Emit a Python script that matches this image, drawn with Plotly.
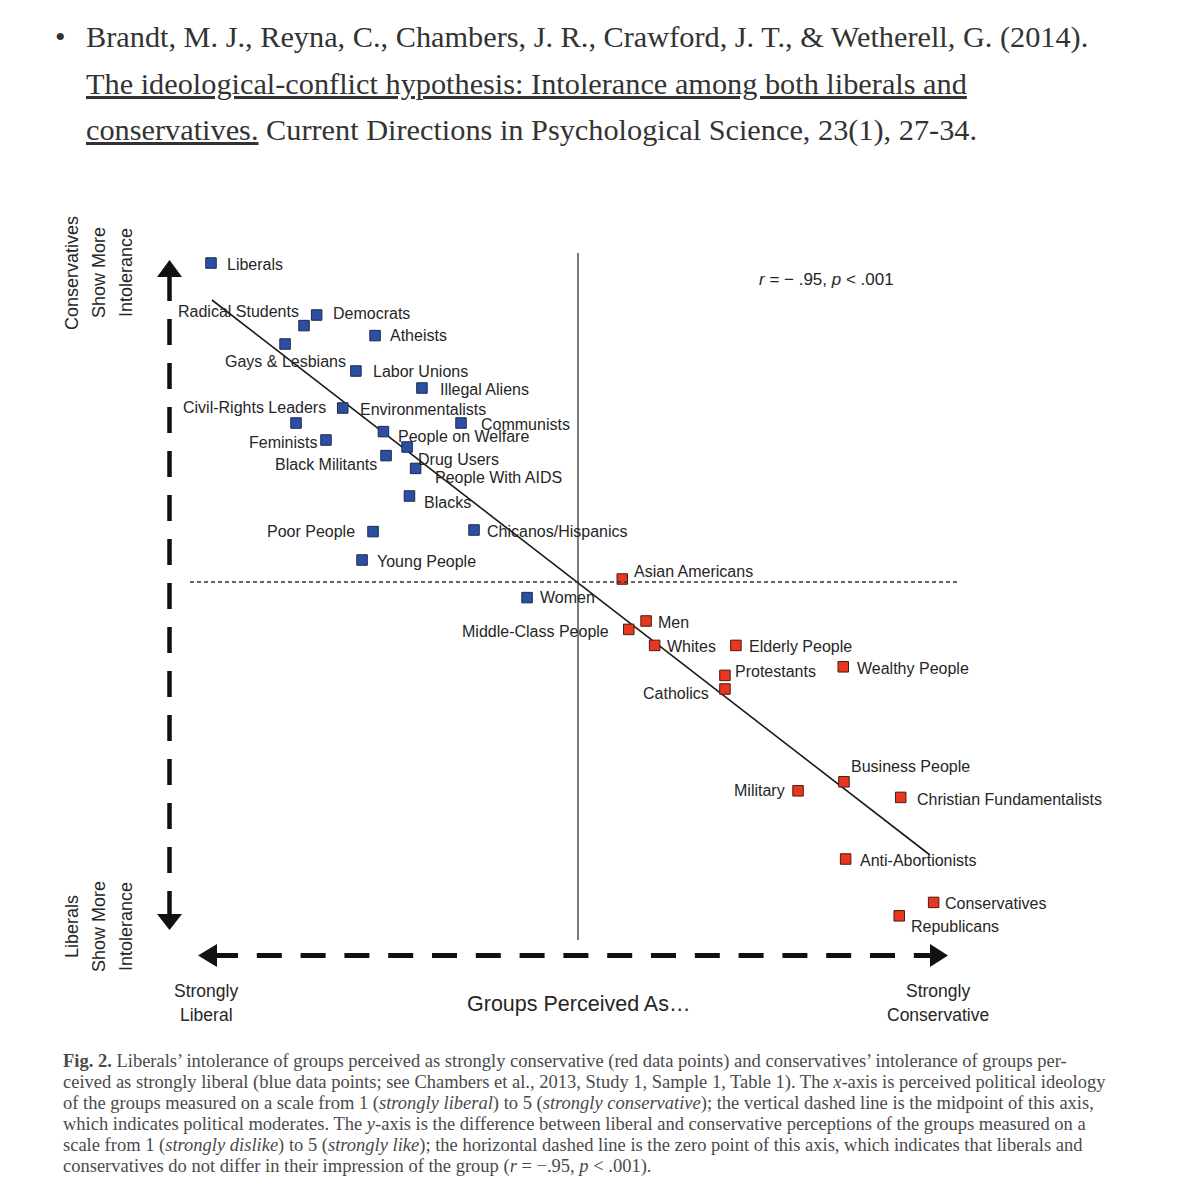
import plotly.graph_objects as go

W, H = 1178, 1200

# ---------------- data ----------------
blue_groups = ["Liberals", "Radical Students", "Democrats", "Gays & Lesbians", "Atheists",
               "Labor Unions", "Illegal Aliens", "Civil-Rights Leaders", "Environmentalists",
               "Communists", "People on Welfare", "Feminists", "Drug Users", "Black Militants",
               "People With AIDS", "Blacks", "Poor People", "Chicanos/Hispanics",
               "Young People", "Women"]
blue_ideology = [1.027, 1.527, 1.595, 1.425, 1.909, 1.806, 2.161, 1.735, 1.484, 2.371,
                 1.954, 1.645, 2.081, 1.968, 2.127, 2.094, 1.898, 2.441, 1.839, 2.726]
blue_difference = [1.595, 1.282, 1.335, 1.190, 1.232, 1.055, 0.970, 0.870, 0.795, 0.795,
                   0.752, 0.710, 0.675, 0.632, 0.568, 0.430, 0.252, 0.260, 0.110, -0.078]

red_groups = ["Asian Americans", "Men", "Middle-Class People", "Whites", "Elderly People",
              "Wealthy People", "Protestants", "Catholics", "Business People", "Military",
              "Christian Fundamentalists", "Anti-Abortionists", "Conservatives", "Republicans"]
red_ideology = [3.238, 3.366, 3.273, 3.412, 3.849, 4.426, 3.790, 3.790, 4.430, 4.183,
                4.735, 4.439, 4.912, 4.727]
red_difference = [0.015, -0.195, -0.237, -0.317, -0.317, -0.424, -0.467, -0.535, -0.999,
                  -1.044, -1.077, -1.385, -1.602, -1.669]

fit_x = [1.032, 4.892]
fit_y = [1.410, -1.365]

midpoint_x = 3.0
zero_y = 0.0
stats_text = "<i>r</i> = − .95, <i>p</i> &lt; .001"

# ---------------- layout geometry (pixel -> axis mapping) ----------------
PX_X1, PX_X5 = 206.0, 950.0      # pixel of ideology 1 and 5
PX_Y0, PX_PER_Y = 582.0, 200.0   # pixel of difference 0, pixels per unit
ux = (PX_X5 - PX_X1) / 4.0
x_range = [1 - PX_X1 / ux, 1 + (W - PX_X1) / ux]
y_range = [(PX_Y0 - H) / PX_PER_Y, PX_Y0 / PX_PER_Y]


def px(x):
    return x / W


def py(y):
    return 1 - y / H


# label placement: (xanchor, dx px, dy px downward)
label_pos = {
    "Liberals": ("left", 14, 1), "Radical Students": ("right", -3, -14),
    "Democrats": ("left", 14, -2), "Gays & Lesbians": ("center", 0, 17),
    "Atheists": ("left", 13, 0), "Labor Unions": ("left", 15, 0),
    "Illegal Aliens": ("left", 16, 1), "Civil-Rights Leaders": ("right", -15, -1),
    "Environmentalists": ("left", 62, -14), "Communists": ("left", 18, 1),
    "People on Welfare": ("left", 13, 5), "Feminists": ("right", -7, 2),
    "Drug Users": ("left", 9, 12), "Black Militants": ("right", -7, 9),
    "People With AIDS": ("left", 17, 9), "Blacks": ("left", 13, 6),
    "Poor People": ("right", -16, 0), "Chicanos/Hispanics": ("left", 11, 1),
    "Young People": ("left", 13, 1), "Women": ("left", 11, 0),
    "Asian Americans": ("left", 10, -8), "Men": ("left", 10, 1),
    "Middle-Class People": ("right", -18, 2), "Whites": ("left", 10, 1),
    "Elderly People": ("left", 11, 1), "Wealthy People": ("left", 12, 2),
    "Protestants": ("left", 8, -4), "Catholics": ("right", -14, 4),
    "Business People": ("left", 5, -15), "Military": ("right", -11, 0),
    "Christian Fundamentalists": ("left", 14, 2), "Anti-Abortionists": ("left", 12, 1),
    "Conservatives": ("left", 9, 1), "Republicans": ("left", 10, 11),
}

SANS = "Liberation Sans, Arial, sans-serif"
SERIF = "Liberation Serif, Times New Roman, serif"
TXT = "#262626"
BLUE = "#2b4fa2"
RED = "#e8361f"

fig = go.Figure()

# regression line
fig.add_trace(go.Scatter(x=fit_x, y=fit_y, mode="lines",
                         line=dict(color="#1a1a1a", width=1.6), hoverinfo="skip"))

fig.add_trace(go.Scatter(x=blue_ideology, y=blue_difference, mode="markers",
                         marker=dict(symbol="square", size=10.5, color=BLUE,
                                     line=dict(color="#1c2a4a", width=1)),
                         text=blue_groups, hoverinfo="text"))
fig.add_trace(go.Scatter(x=red_ideology, y=red_difference, mode="markers",
                         marker=dict(symbol="square", size=10.5, color=RED,
                                     line=dict(color="#4a1a14", width=1)),
                         text=red_groups, hoverinfo="text"))

annotations = []
for names, xs, ys in ((blue_groups, blue_ideology, blue_difference),
                      (red_groups, red_ideology, red_difference)):
    for n, xv, yv in zip(names, xs, ys):
        anc, dx, dy = label_pos[n]
        annotations.append(dict(x=xv, y=yv, xref="x", yref="y", text=n.replace("&", "&amp;"),
                                showarrow=False, xanchor=anc, yanchor="middle",
                                xshift=dx, yshift=-dy,
                                font=dict(family=SANS, size=16, color=TXT)))

annotations.append(dict(x=px(757), y=py(279), xref="paper", yref="paper", text=stats_text,
                        showarrow=False, xanchor="left", yanchor="middle",
                        font=dict(family=SANS, size=17, color=TXT)))

# axis descriptions (rotated, one line each)
for lines, cy in ((["Conservatives", "Show More", "Intolerance"], 273),
                  (["Liberals", "Show More", "Intolerance"], 927)):
    for j, t in enumerate(lines):
        annotations.append(dict(x=px(72 + 27 * j), y=py(cy), xref="paper", yref="paper",
                                text=t, textangle=-90, showarrow=False,
                                xanchor="center", yanchor="middle",
                                font=dict(family=SANS, size=18, color=TXT)))
for txt, xx, yy in (("Strongly", 206, 991), ("Liberal", 206, 1015),
                    ("Strongly", 938, 991), ("Conservative", 938, 1015)):
    annotations.append(dict(x=px(xx), y=py(yy), xref="paper", yref="paper", text=txt,
                            showarrow=False, xanchor="center", yanchor="middle",
                            font=dict(family=SANS, size=17.5, color=TXT)))
annotations.append(dict(x=px(578), y=py(1004), xref="paper", yref="paper",
                        text="Groups Perceived As…", showarrow=False,
                        xanchor="center", yanchor="middle",
                        font=dict(family=SANS, size=21.5, color=TXT)))

# citation
annotations.append(dict(x=px(60), y=py(36), xref="paper", yref="paper", text="•",
                        showarrow=False, xanchor="center", yanchor="middle",
                        font=dict(family=SERIF, size=30, color="#333333")))
cite_lines = [
    "Brandt, M. J., Reyna, C., Chambers, J. R., Crawford, J. T., &amp; Wetherell, G. (2014).",
    "<u>The ideological-conflict hypothesis: Intolerance among both liberals and</u>",
    "<u>conservatives.</u> Current Directions in Psychological Science, 23(1), 27-34.",
]
for i, line in enumerate(cite_lines):
    annotations.append(dict(x=px(84), y=py(37 + 46.5 * i), xref="paper", yref="paper",
                            text=line, showarrow=False, xanchor="left", yanchor="middle",
                            font=dict(family=SERIF, size=30.3, color="#333333")))

# figure caption
cap_lines = [
    "<b>Fig. 2.</b> Liberals’ intolerance of groups perceived as strongly conservative (red data points) and conservatives’ intolerance of groups per-",
    "ceived as strongly liberal (blue data points; see Chambers et al., 2013, Study 1, Sample 1, Table 1). The <i>x</i>-axis is perceived political ideology",
    "of the groups measured on a scale from 1 (<i>strongly liberal</i>) to 5 (<i>strongly conservative</i>); the vertical dashed line is the midpoint of this axis,",
    "which indicates political moderates. The <i>y</i>-axis is the difference between liberal and conservative perceptions of the groups measured on a",
    "scale from 1 (<i>strongly dislike</i>) to 5 (<i>strongly like</i>); the horizontal dashed line is the zero point of this axis, which indicates that liberals and",
    "conservatives do not differ in their impression of the group (<i>r</i> = −.95, <i>p</i> &lt; .001).",
]
for i, line in enumerate(cap_lines):
    annotations.append(dict(x=px(61), y=py(1061 + 21 * i), xref="paper", yref="paper",
                            text=line, showarrow=False, xanchor="left", yanchor="middle",
                            font=dict(family=SERIF, size=18.5, color="#4a4a4a")))

shapes = []
# midpoint (vertical) and zero (horizontal dashed) reference lines
shapes.append(dict(type="line", xref="x", yref="y", x0=midpoint_x, x1=midpoint_x,
                   y0=(PX_Y0 - 253) / PX_PER_Y, y1=(PX_Y0 - 940) / PX_PER_Y,
                   line=dict(color="#333333", width=1.3)))
shapes.append(dict(type="line", xref="x", yref="y", y0=zero_y, y1=zero_y,
                   x0=1 + (190 - PX_X1) / ux, x1=1 + (957 - PX_X1) / ux,
                   line=dict(color="#333333", width=1.3, dash="4px,3px")))

# big dashed arrows
shapes.append(dict(type="line", xref="paper", yref="paper", x0=px(169.5), x1=px(169.5),
                   y0=py(275), y1=py(916), line=dict(color="#111111", width=4.5, dash="26px,18px")))
shapes.append(dict(type="line", xref="paper", yref="paper", x0=px(213), x1=px(932),
                   y0=py(955.5), y1=py(955.5), line=dict(color="#111111", width=5, dash="25px,18.8px")))


def tri(p1, p2, p3):
    return "M {} {} L {} {} L {} {} Z".format(px(p1[0]), py(p1[1]), px(p2[0]), py(p2[1]),
                                               px(p3[0]), py(p3[1]))


for pts in (((169.5, 260), (157, 277), (182, 277)),
            ((169.5, 930), (157, 914), (182, 914)),
            ((198, 955.5), (217, 944), (217, 967)),
            ((948, 955.5), (930, 944), (930, 967))):
    shapes.append(dict(type="path", xref="paper", yref="paper", path=tri(*pts),
                       fillcolor="#111111", line=dict(width=0)))

fig.update_layout(
    width=W, height=H, margin=dict(l=0, r=0, t=0, b=0),
    paper_bgcolor="white", plot_bgcolor="white", showlegend=False,
    xaxis=dict(range=x_range, visible=False, fixedrange=True),
    yaxis=dict(range=y_range, visible=False, fixedrange=True),
    annotations=annotations, shapes=shapes,
)

fig.write_html("out.html", config={"displayModeBar": False},
               post_script="document.body.style.margin='0';document.body.style.overflow='hidden';")
